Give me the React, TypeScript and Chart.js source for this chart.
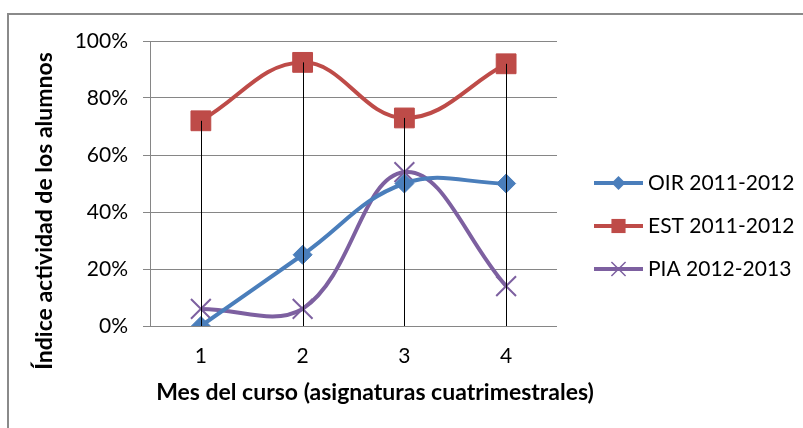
import React, { useEffect, useRef } from 'react';
import { Chart, registerables } from 'chart.js';

Chart.register(...registerables);

const categories = ['1', '2', '3', '4'];
const oirValues = [0, 25, 50, 50];
const estValues = [72, 92.5, 73, 92];
const piaValues = [6, 6, 54, 14];
const seriesNames = ['OIR 2011-2012', 'EST 2011-2012', 'PIA 2012-2013'];
const seriesColors = ['#4A7EBB', '#BE4B48', '#7D60A0'];
const xTitleText = 'Mes del curso (asignaturas cuatrimestrales)';
const yTitleText = 'Índice actividad de los alumnos';

const FONT = 'Lato, "Open Sans", sans-serif';

function drawMarker(ctx: CanvasRenderingContext2D, style: string, x: number, y: number, r: number, color: string) {
  ctx.save();
  ctx.fillStyle = color;
  ctx.strokeStyle = color;
  ctx.beginPath();
  if (style === 'rectRot') {
    ctx.moveTo(x, y - r);
    ctx.lineTo(x + r, y);
    ctx.lineTo(x, y + r);
    ctx.lineTo(x - r, y);
    ctx.closePath();
    ctx.fill();
  } else if (style === 'rect') {
    const s = r * Math.SQRT1_2;
    ctx.rect(x - s, y - s, 2 * s, 2 * s);
    ctx.fill();
  } else {
    const s = r * Math.SQRT1_2;
    ctx.lineWidth = 1.5;
    ctx.moveTo(x - s, y - s);
    ctx.lineTo(x + s, y + s);
    ctx.moveTo(x + s, y - s);
    ctx.lineTo(x - s, y + s);
    ctx.stroke();
  }
  ctx.restore();
}

const dropLinesPlugin = {
  id: 'dropLines',
  afterDatasetsDraw(chart: any) {
    const { ctx, scales } = chart;
    const xs = scales.x;
    const ys = scales.y;
    ctx.save();
    ctx.strokeStyle = '#000';
    ctx.lineWidth = 1;
    categories.forEach((_, i) => {
      const vals = chart.data.datasets.map((d: any) => d.data[i] as number);
      const max = Math.max(...vals);
      const x = Math.round(xs.getPixelForValue(i)) + 0.5;
      ctx.beginPath();
      ctx.moveTo(x, ys.getPixelForValue(max));
      ctx.lineTo(x, ys.getPixelForValue(0));
      ctx.stroke();
    });
    ctx.restore();
  },
};

const titlesLegendPlugin = {
  id: 'titlesLegend',
  afterDraw(chart: any) {
    const { ctx } = chart;
    ctx.save();
    ctx.fillStyle = '#000';
    // y title
    ctx.font = `bold 23px ${FONT}`;
    ctx.textAlign = 'center';
    ctx.textBaseline = 'middle';
    ctx.save();
    ctx.translate(45, 211);
    ctx.rotate(-Math.PI / 2);
    ctx.fillText(yTitleText, 0, 0);
    ctx.restore();
    // x title
    ctx.fillText(xTitleText, 375, 393);
    // legend
    const styles = ['rectRot', 'rect', 'crossRot'];
    const sizes = [7, 10, 10];
    chart.data.datasets.forEach((ds: any, i: number) => {
      const y = 183 + i * 43;
      ctx.strokeStyle = ds.borderColor;
      ctx.lineWidth = 4;
      ctx.beginPath();
      ctx.moveTo(594, y);
      ctx.lineTo(643, y);
      ctx.stroke();
      drawMarker(ctx, styles[i], 618.5, y, sizes[i], ds.borderColor);
      ctx.fillStyle = '#000';
      ctx.font = `21px ${FONT}`;
      ctx.textAlign = 'left';
      ctx.textBaseline = 'middle';
      ctx.fillText(ds.label, 648, y);
    });
    ctx.restore();
  },
};

export default function App() {
  const canvasRef = useRef<HTMLCanvasElement>(null);

  useEffect(() => {
    const canvas = canvasRef.current;
    if (!canvas) return;
    const mk = (label: string, data: number[], color: string, pointStyle: string, radius: number, bw: number) => ({
      label,
      data,
      borderColor: color,
      backgroundColor: color,
      borderWidth: 4,
      tension: 0.4,
      pointStyle,
      pointRadius: radius,
      pointHoverRadius: radius,
      pointBorderWidth: bw,
      pointBackgroundColor: color,
      pointBorderColor: color,
    });
    const chart = new Chart(canvas, {
      type: 'line',
      data: {
        labels: categories,
        datasets: [
          mk(seriesNames[0], oirValues, seriesColors[0], 'rectRot', 9.5, 1),
          mk(seriesNames[1], estValues, seriesColors[1], 'rect', 14, 1),
          mk(seriesNames[2], piaValues, seriesColors[2], 'crossRot', 14, 2),
        ],
      },
      options: {
        responsive: false,
        animation: false,
        devicePixelRatio: 1,
        layout: { padding: { top: 41, right: 246, left: 0, bottom: 0 }, autoPadding: false },
        plugins: {
          legend: { display: false },
          tooltip: { enabled: false },
        },
        scales: {
          x: {
            offset: true,
            grid: { display: false, drawTicks: false },
            border: { display: false },
            ticks: {
              color: '#000',
              font: { family: FONT, size: 21 },
              padding: 18,
            },
            afterFit(scale: any) {
              scale.height = 102;
            },
          },
          y: {
            min: 0,
            max: 100,
            grid: { color: '#868686', lineWidth: 1, tickLength: 7 },
            border: { display: true, color: '#868686' },
            ticks: {
              stepSize: 20,
              color: '#000',
              font: { family: FONT, size: 21 },
              padding: 15,
              callback: (v: any) => `${v}%`,
            },
            afterFit(scale: any) {
              scale.width = 150;
            },
          },
        },
      },
      plugins: [dropLinesPlugin, titlesLegendPlugin],
    } as any);
    return () => chart.destroy();
  }, []);

  return (
    <div style={{ position: 'fixed', left: 0, top: 0, width: 803, height: 428, overflow: 'hidden', background: '#fff' }}>
      <div style={{ position: 'absolute', left: 7, top: 13, width: 900, height: 600, border: '2px solid #8a8a8a' }} />
      <canvas ref={canvasRef} width={803} height={428} style={{ position: 'absolute', left: 0, top: 0 }} />
    </div>
  );
}
